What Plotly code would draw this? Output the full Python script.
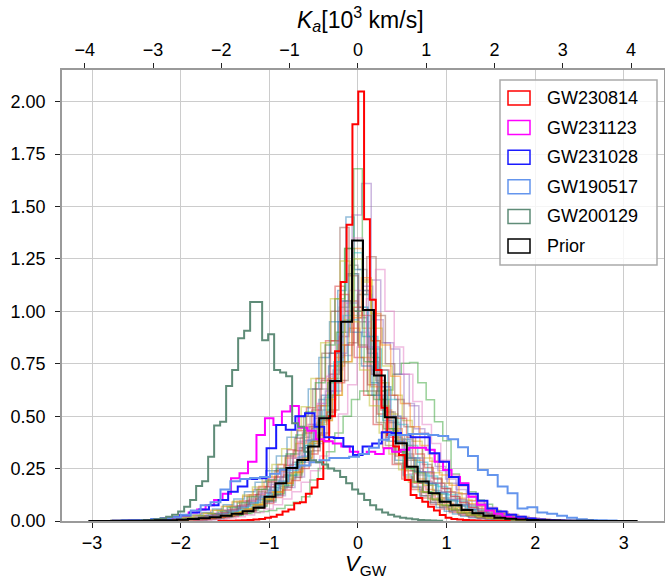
import numpy as np
import plotly.graph_objects as go

# ---------------- data (histogram bin heights) ----------------
# each histogram: (lo, hi) range of bin edges and the bin heights (equal-width bins)
prior_range = (-3.03, 3.145)
prior_counts = [0.0005, 0.0005, 0.001, 0.001, 0.0015, 0.002, 0.003, 0.004, 0.006, 0.009,
                0.013, 0.018, 0.025, 0.035, 0.046, 0.063, 0.116, 0.18, 0.253, 0.291,
                0.355, 0.49, 0.668, 0.951, 1.338, 1.007, 0.694, 0.495, 0.371, 0.259,
                0.188, 0.132, 0.092, 0.075, 0.052, 0.037, 0.025, 0.016, 0.011, 0.007,
                0.005, 0.003, 0.002, 0.0015, 0.001, 0.001, 0.0005, 0.0005, 0.0005, 0.0005]

gw230814_range = (-1.5729, 1.7121)
gw230814_counts = [0.0005, 0.001, 0.001, 0.002, 0.003, 0.005, 0.007, 0.01, 0.015, 0.02,
                   0.03, 0.045, 0.055, 0.085, 0.09, 0.13, 0.16, 0.20, 0.38, 0.50,
                   0.81, 1.14, 1.413, 1.893, 2.049, 1.44, 1.055, 0.72, 0.54, 0.41,
                   0.355, 0.315, 0.196, 0.124, 0.11, 0.092, 0.068, 0.05, 0.029, 0.015,
                   0.01, 0.007, 0.005, 0.003, 0.002, 0.001, 0.0005, 0.0005, 0.0005, 0.0005]

gw231123_range = (-2.580, 2.205)
gw231123_counts = [0.002, 0.003, 0.005, 0.008, 0.012, 0.018, 0.027, 0.04, 0.055, 0.075,
                   0.10, 0.13, 0.204, 0.228, 0.283, 0.41, 0.49, 0.458, 0.522, 0.549,
                   0.445, 0.43, 0.39, 0.38, 0.37, 0.355, 0.33, 0.32, 0.33, 0.32,
                   0.347, 0.33, 0.34, 0.35, 0.35, 0.34, 0.283, 0.243, 0.21, 0.18,
                   0.116, 0.077, 0.05, 0.035, 0.022, 0.014, 0.009, 0.006, 0.003, 0.002]

gw231028_range = (-2.764, 2.653)
gw231028_counts = [0.001, 0.002, 0.003, 0.005, 0.008, 0.012, 0.018, 0.028, 0.04, 0.055,
                   0.075, 0.10, 0.14, 0.164, 0.20, 0.204, 0.347, 0.458, 0.435, 0.50,
                   0.514, 0.45, 0.40, 0.396, 0.355, 0.315, 0.355, 0.37, 0.423, 0.42,
                   0.41, 0.40, 0.40, 0.323, 0.283, 0.21, 0.172, 0.13, 0.097, 0.06,
                   0.045, 0.03, 0.02, 0.012, 0.007, 0.004, 0.002, 0.001, 0.001, 0.0005]

gw190517_range = (-2.668, 2.918)
gw190517_counts = [0.002, 0.003, 0.005, 0.008, 0.012, 0.018, 0.03, 0.05, 0.075, 0.09,
                   0.15, 0.19, 0.20, 0.205, 0.21, 0.225, 0.245, 0.255, 0.265, 0.28,
                   0.29, 0.30, 0.30, 0.307, 0.32, 0.35, 0.387, 0.41, 0.41, 0.415,
                   0.415, 0.41, 0.406, 0.39, 0.352, 0.31, 0.243, 0.22, 0.164, 0.132,
                   0.06, 0.065, 0.04, 0.035, 0.025, 0.015, 0.008, 0.005, 0.003, 0.002]

gw200129_range = (-2.4345, 0.9505)
gw200129_counts = [0.002, 0.004, 0.008, 0.012, 0.02, 0.03, 0.045, 0.068, 0.10, 0.167,
                   0.19, 0.307, 0.455, 0.474, 0.644, 0.72, 0.872, 0.908, 1.045, 1.045,
                   0.862, 0.891, 0.72, 0.708, 0.69, 0.466, 0.45, 0.33, 0.29, 0.28,
                   0.27, 0.25, 0.24, 0.21, 0.18, 0.15, 0.13, 0.10, 0.075, 0.055,
                   0.04, 0.03, 0.022, 0.015, 0.012, 0.008, 0.005, 0.003, 0.002, 0.001]

# faint histograms of the other events
bg_ranges = [(-2.2, 2.2), (-2.0, 2.1), (-2.0406, 2.644), (-2.3, 2.0), (-2.0, 2.3),
             (-2.1, 2.1), (-2.4, 2.2), (-2.0, 2.0), (-2.2, 2.3), (-2.1, 2.2),
             (-1.8, 1.9), (-2.5, 2.3), (-1.9, 2.0), (-2.2, 2.0), (-2.3, 2.4),
             (-2.0, 2.2), (-2.1, 2.0), (-2.3, 2.1), (-1.95, 2.05), (-2.25, 2.25),
             (-2.6, 2.2), (-2.05, 2.35), (-2.35, 2.05), (-1.85, 2.15), (-2.45, 2.45),
             (-2.15, 1.95), (-1.9, 2.3), (-2.4, 2.0)]
bg_counts = [
    [0.003, 0.005, 0.008, 0.012, 0.018, 0.026, 0.036, 0.05, 0.068, 0.09, 0.12, 0.16, 0.21, 0.27, 0.35, 0.45, 0.58, 0.74, 0.95, 1.18,
     1.02, 0.80, 0.62, 0.49, 0.38, 0.30, 0.23, 0.18, 0.135, 0.10, 0.075, 0.055, 0.04, 0.028, 0.019, 0.013, 0.009, 0.006, 0.004, 0.002],
    [0.004, 0.006, 0.01, 0.015, 0.022, 0.03, 0.042, 0.058, 0.08, 0.105, 0.14, 0.18, 0.23, 0.29, 0.37, 0.47, 0.60, 0.78, 1.05, 1.30,
     0.92, 0.70, 0.55, 0.43, 0.33, 0.26, 0.2, 0.15, 0.11, 0.085, 0.062, 0.045, 0.032, 0.022, 0.015, 0.01, 0.007, 0.005, 0.003, 0.002],
    [0.003, 0.005, 0.007, 0.01, 0.013, 0.017, 0.022, 0.028, 0.035, 0.04, 0.045, 0.05, 0.06, 0.075, 0.09, 0.116, 0.196, 0.25, 0.33, 0.42,
     0.50, 0.58, 0.62, 0.60, 0.62, 0.625, 0.70, 0.753, 0.756, 0.66, 0.578, 0.474, 0.383, 0.224, 0.18, 0.14, 0.10, 0.08, 0.05, 0.035,
     0.02, 0.012, 0.008, 0.005, 0.003, 0.002, 0.001, 0.001, 0.0005, 0.0005],
    [0.002, 0.004, 0.007, 0.011, 0.017, 0.025, 0.035, 0.05, 0.07, 0.095, 0.125, 0.165, 0.21, 0.27, 0.34, 0.43, 0.54, 0.68, 0.86, 1.12,
     1.0, 0.78, 0.6, 0.46, 0.35, 0.27, 0.2, 0.15, 0.11, 0.08, 0.057, 0.04, 0.028, 0.019, 0.013, 0.009, 0.006, 0.004, 0.002, 0.001],
    [0.003, 0.005, 0.008, 0.012, 0.018, 0.026, 0.036, 0.05, 0.068, 0.09, 0.12, 0.16, 0.21, 0.28, 0.37, 0.5, 0.72, 1.05, 1.46, 1.61,
     1.15, 0.85, 0.82, 0.7, 0.55, 0.42, 0.32, 0.24, 0.18, 0.13, 0.095, 0.07, 0.05, 0.035, 0.024, 0.016, 0.011, 0.007, 0.004, 0.002],
    [0.004, 0.007, 0.011, 0.016, 0.023, 0.032, 0.044, 0.06, 0.08, 0.105, 0.135, 0.175, 0.22, 0.28, 0.35, 0.44, 0.55, 0.7, 0.88, 1.0,
     0.97, 0.82, 0.66, 0.52, 0.41, 0.32, 0.25, 0.19, 0.145, 0.11, 0.08, 0.058, 0.042, 0.03, 0.021, 0.014, 0.009, 0.006, 0.004, 0.002],
    [0.003, 0.005, 0.008, 0.012, 0.018, 0.026, 0.037, 0.052, 0.07, 0.094, 0.125, 0.16, 0.2, 0.25, 0.31, 0.38, 0.46, 0.56, 0.7, 0.88,
     1.1, 0.9, 0.72, 0.58, 0.47, 0.38, 0.3, 0.235, 0.18, 0.14, 0.105, 0.078, 0.057, 0.041, 0.029, 0.02, 0.013, 0.008, 0.005, 0.003],
    [0.002, 0.004, 0.007, 0.011, 0.017, 0.025, 0.036, 0.05, 0.068, 0.09, 0.12, 0.155, 0.2, 0.26, 0.33, 0.42, 0.53, 0.68, 0.9, 1.22,
     1.2, 0.88, 0.67, 0.52, 0.4, 0.31, 0.24, 0.18, 0.135, 0.1, 0.073, 0.053, 0.038, 0.027, 0.018, 0.012, 0.008, 0.005, 0.003, 0.002],
    [0.002, 0.004, 0.006, 0.01, 0.015, 0.022, 0.031, 0.044, 0.06, 0.08, 0.105, 0.14, 0.18, 0.23, 0.3, 0.38, 0.48, 0.6, 0.76, 0.98,
     1.15, 0.92, 0.74, 0.6, 0.48, 0.38, 0.3, 0.23, 0.18, 0.135, 0.1, 0.075, 0.055, 0.04, 0.028, 0.019, 0.013, 0.008, 0.005, 0.003],
    [0.003, 0.005, 0.009, 0.014, 0.02, 0.029, 0.04, 0.055, 0.075, 0.1, 0.13, 0.17, 0.22, 0.28, 0.36, 0.46, 0.59, 0.76, 0.98, 1.28,
     1.08, 0.82, 0.64, 0.5, 0.39, 0.3, 0.23, 0.175, 0.13, 0.097, 0.071, 0.052, 0.037, 0.026, 0.018, 0.012, 0.008, 0.005, 0.003, 0.002],
    [0.004, 0.007, 0.011, 0.017, 0.025, 0.036, 0.05, 0.07, 0.095, 0.125, 0.165, 0.215, 0.28, 0.36, 0.46, 0.6, 0.8, 1.1, 1.45, 1.2,
     0.88, 0.66, 0.5, 0.38, 0.29, 0.22, 0.165, 0.12, 0.088, 0.064, 0.046, 0.033, 0.023, 0.016, 0.011, 0.007, 0.005, 0.003, 0.002, 0.001],
    [0.003, 0.005, 0.008, 0.012, 0.018, 0.026, 0.037, 0.051, 0.069, 0.091, 0.118, 0.15, 0.19, 0.24, 0.3, 0.37, 0.45, 0.55, 0.68, 0.84,
     0.92, 0.78, 0.64, 0.53, 0.44, 0.36, 0.29, 0.23, 0.18, 0.14, 0.108, 0.082, 0.061, 0.045, 0.033, 0.023, 0.016, 0.011, 0.007, 0.004],
    [0.003, 0.005, 0.008, 0.012, 0.018, 0.026, 0.037, 0.052, 0.072, 0.097, 0.13, 0.17, 0.22, 0.29, 0.38, 0.5, 0.66, 0.9, 1.3, 1.68,
     1.1, 0.78, 0.58, 0.44, 0.33, 0.25, 0.19, 0.14, 0.105, 0.078, 0.057, 0.041, 0.029, 0.02, 0.014, 0.009, 0.006, 0.004, 0.002, 0.001],
    [0.003, 0.005, 0.008, 0.013, 0.019, 0.027, 0.038, 0.053, 0.072, 0.096, 0.126, 0.163, 0.21, 0.265, 0.335, 0.42, 0.53, 0.67, 0.86, 1.08,
     1.05, 0.83, 0.65, 0.51, 0.4, 0.31, 0.24, 0.18, 0.135, 0.1, 0.073, 0.053, 0.038, 0.027, 0.019, 0.013, 0.009, 0.006, 0.004, 0.002],
    [0.002, 0.004, 0.007, 0.011, 0.016, 0.023, 0.033, 0.046, 0.063, 0.085, 0.112, 0.146, 0.19, 0.245, 0.31, 0.39, 0.49, 0.62, 0.79, 1.0,
     1.12, 0.96, 0.85, 0.7, 0.56, 0.44, 0.34, 0.26, 0.2, 0.15, 0.112, 0.083, 0.061, 0.044, 0.031, 0.021, 0.014, 0.009, 0.005, 0.003],
    [0.003, 0.005, 0.008, 0.012, 0.018, 0.026, 0.037, 0.052, 0.071, 0.095, 0.125, 0.162, 0.208, 0.265, 0.335, 0.42, 0.53, 0.67, 0.85, 1.08,
     1.26, 0.98, 0.75, 0.58, 0.45, 0.35, 0.27, 0.205, 0.155, 0.116, 0.086, 0.063, 0.045, 0.032, 0.022, 0.015, 0.01, 0.006, 0.004, 0.002],
    [0.004, 0.007, 0.011, 0.016, 0.024, 0.034, 0.047, 0.064, 0.086, 0.113, 0.147, 0.19, 0.24, 0.3, 0.375, 0.46, 0.56, 0.69, 0.85, 1.04,
     1.35, 0.95, 0.7, 0.53, 0.4, 0.3, 0.225, 0.165, 0.12, 0.088, 0.064, 0.046, 0.033, 0.023, 0.016, 0.011, 0.007, 0.005, 0.003, 0.002],
    [0.003, 0.005, 0.008, 0.012, 0.018, 0.026, 0.036, 0.05, 0.068, 0.09, 0.118, 0.152, 0.195, 0.25, 0.32, 0.4, 0.5, 0.63, 0.8, 1.02,
     1.18, 0.95, 0.76, 0.6, 0.47, 0.37, 0.29, 0.22, 0.17, 0.128, 0.095, 0.07, 0.051, 0.037, 0.026, 0.018, 0.012, 0.008, 0.005, 0.003],
    [0.004, 0.006, 0.01, 0.015, 0.022, 0.031, 0.043, 0.059, 0.08, 0.106, 0.14, 0.18, 0.23, 0.295, 0.37, 0.46, 0.58, 0.74, 0.96, 1.25,
     1.14, 0.86, 0.66, 0.51, 0.39, 0.3, 0.23, 0.17, 0.125, 0.092, 0.067, 0.048, 0.034, 0.024, 0.016, 0.011, 0.007, 0.005, 0.003, 0.002],
    [0.003, 0.005, 0.008, 0.012, 0.017, 0.024, 0.034, 0.047, 0.064, 0.086, 0.113, 0.147, 0.19, 0.24, 0.305, 0.385, 0.48, 0.6, 0.76, 0.96,
     1.02, 0.88, 0.72, 0.58, 0.46, 0.36, 0.28, 0.215, 0.165, 0.125, 0.094, 0.07, 0.051, 0.037, 0.026, 0.018, 0.012, 0.008, 0.005, 0.003],
    [0.002, 0.004, 0.006, 0.009, 0.014, 0.02, 0.029, 0.041, 0.057, 0.078, 0.105, 0.14, 0.185, 0.24, 0.31, 0.4, 0.5, 0.63, 0.78, 0.95,
     1.05, 0.9, 0.74, 0.6, 0.48, 0.38, 0.3, 0.235, 0.18, 0.137, 0.103, 0.077, 0.056, 0.04, 0.028, 0.019, 0.012, 0.008, 0.005, 0.003],
    [0.003, 0.005, 0.008, 0.012, 0.018, 0.027, 0.039, 0.055, 0.076, 0.103, 0.137, 0.18, 0.235, 0.3, 0.38, 0.48, 0.6, 0.76, 0.97, 1.16,
     0.99, 0.84, 0.69, 0.56, 0.45, 0.36, 0.285, 0.22, 0.17, 0.13, 0.098, 0.073, 0.053, 0.038, 0.027, 0.018, 0.012, 0.008, 0.005, 0.003],
    [0.002, 0.004, 0.007, 0.011, 0.016, 0.024, 0.034, 0.047, 0.064, 0.086, 0.114, 0.15, 0.195, 0.25, 0.32, 0.41, 0.52, 0.66, 0.84, 1.06,
     1.3, 1.0, 0.76, 0.58, 0.44, 0.33, 0.25, 0.185, 0.137, 0.1, 0.073, 0.053, 0.038, 0.027, 0.019, 0.013, 0.008, 0.005, 0.003, 0.002],
    [0.004, 0.006, 0.01, 0.015, 0.022, 0.032, 0.045, 0.062, 0.084, 0.112, 0.148, 0.193, 0.25, 0.32, 0.41, 0.52, 0.66, 0.84, 1.02, 0.98,
     0.86, 0.72, 0.6, 0.49, 0.4, 0.32, 0.255, 0.2, 0.155, 0.118, 0.089, 0.066, 0.048, 0.035, 0.025, 0.017, 0.011, 0.007, 0.004, 0.002],
    [0.002, 0.003, 0.005, 0.008, 0.012, 0.018, 0.026, 0.037, 0.052, 0.072, 0.098, 0.132, 0.175, 0.23, 0.3, 0.385, 0.49, 0.62, 0.8, 1.04,
     1.1, 0.83, 0.64, 0.5, 0.39, 0.3, 0.235, 0.18, 0.137, 0.103, 0.077, 0.057, 0.041, 0.029, 0.02, 0.013, 0.008, 0.005, 0.003, 0.002],
    [0.003, 0.005, 0.008, 0.013, 0.02, 0.029, 0.041, 0.057, 0.078, 0.105, 0.14, 0.185, 0.24, 0.31, 0.395, 0.5, 0.63, 0.8, 1.0, 1.4,
     1.17, 0.84, 0.62, 0.47, 0.36, 0.275, 0.21, 0.16, 0.12, 0.09, 0.066, 0.048, 0.034, 0.024, 0.016, 0.011, 0.007, 0.004, 0.003, 0.002],
    [0.002, 0.004, 0.006, 0.009, 0.014, 0.02, 0.029, 0.041, 0.057, 0.078, 0.105, 0.14, 0.185, 0.24, 0.31, 0.4, 0.51, 0.65, 0.83, 1.06,
     1.2, 1.0, 0.83, 0.7, 0.57, 0.46, 0.37, 0.29, 0.22, 0.165, 0.122, 0.09, 0.065, 0.047, 0.033, 0.023, 0.015, 0.01, 0.006, 0.003],
    [0.003, 0.005, 0.008, 0.012, 0.018, 0.026, 0.037, 0.051, 0.07, 0.094, 0.124, 0.162, 0.21, 0.27, 0.345, 0.435, 0.545, 0.68, 0.85, 1.06,
     1.24, 0.95, 0.72, 0.55, 0.42, 0.32, 0.245, 0.185, 0.14, 0.105, 0.078, 0.057, 0.041, 0.029, 0.02, 0.013, 0.009, 0.006, 0.003, 0.002],
]
bg_colors = ['#1f77b4', '#ff7f0e', '#2ca02c', '#d62728', '#9467bd', '#8c564b', '#e377c2', '#7f7f7f', '#bcbd22', '#17becf',
             '#1f77b4', '#ff7f0e', '#2ca02c', '#d62728', '#9467bd', '#8c564b', '#e377c2', '#7f7f7f', '#bcbd22', '#17becf',
             '#1f77b4', '#ff7f0e', '#2ca02c', '#d62728', '#9467bd', '#8c564b', '#e377c2', '#bcbd22']

event_names = ['GW230814', 'GW231123', 'GW231028', 'GW190517', 'GW200129', 'Prior']
event_colors = ['#ff0000', '#ff00ff', '#1a1aff', '#6495ed', '#5f8c78', '#000000']
event_ranges = [gw230814_range, gw231123_range, gw231028_range, gw190517_range, gw200129_range, prior_range]
event_counts = [gw230814_counts, gw231123_counts, gw231028_counts, gw190517_counts, gw200129_counts, prior_counts]

v_ticks = [-3, -2, -1, 0, 1, 2, 3]
ka_ticks = [-4, -3, -2, -1, 0, 1, 2, 3, 4]
y_ticks = [0.0, 0.25, 0.5, 0.75, 1.0, 1.25, 1.5, 1.75, 2.0]
ka_per_v = 1.298   # 10^3 km/s per unit of V_GW

# ---------------- figure ----------------
def step_xy(rng, counts):
    edges = np.linspace(rng[0], rng[1], len(counts) + 1)
    x = np.concatenate([[edges[0]], edges[:-1], [edges[-1]]])
    y = np.concatenate([[0.0], counts, [0.0]])
    return x, y

fig = go.Figure()
for rng, cnt, col in zip(bg_ranges, bg_counts, bg_colors):
    x, y = step_xy(rng, cnt)
    fig.add_trace(go.Scatter(x=x, y=y, mode='lines', line=dict(color=col, width=1.5, shape='hv'),
                             opacity=0.48, showlegend=False, hoverinfo='skip'))

for name, rng, cnt, col in zip(event_names, event_ranges, event_counts, event_colors):
    x, y = step_xy(rng, cnt)
    fig.add_trace(go.Scatter(x=x, y=y, mode='lines', name=name,
                             line=dict(color=col, width=2, shape='hv'), showlegend=False))

all_lo = min(r[0] for r in bg_ranges + event_ranges)
all_hi = max(r[1] for r in bg_ranges + event_ranges)
pad = 0.05 * (all_hi - all_lo)
xr = [all_lo - pad, all_hi + pad]
yr = [0, 1.05 * max(max(c) for c in event_counts + bg_counts)]

# invisible trace to carry the top axis
fig.add_trace(go.Scatter(x=[xr[0] * ka_per_v, xr[1] * ka_per_v], y=[0, 0], xaxis='x2', mode='lines',
                         line=dict(width=0), opacity=0, showlegend=False, hoverinfo='skip'))

FONT = 'Liberation Sans, Arial, Helvetica, sans-serif'
axis_common = dict(showline=True, linecolor='#9a9a9a', linewidth=1.5, ticks='outside', ticklen=5,
                   tickwidth=1.2, tickcolor='#222222', tickfont=dict(size=18, color='black', family=FONT),
                   zeroline=False, automargin=False)

fig.update_layout(
    width=665, height=582,
    margin=dict(l=62, r=1, t=70, b=61, autoexpand=False),
    paper_bgcolor='white', plot_bgcolor='white',
    font=dict(family=FONT, color='black'),
    showlegend=False,
    xaxis=dict(range=xr, tickvals=v_ticks, showgrid=True, gridcolor='#cccccc', gridwidth=1, **axis_common),
    xaxis2=dict(range=[xr[0] * ka_per_v, xr[1] * ka_per_v], overlaying='x', side='top', anchor='y',
                tickvals=ka_ticks, showgrid=False, **axis_common),
    yaxis=dict(range=yr, tickvals=y_ticks, tickformat='.2f', showgrid=True, gridcolor='#cccccc', gridwidth=1,
               mirror=True, ticklabelstandoff=6, **axis_common),
)

# pixel helpers for layout items (legend box, axis titles)
W, H = 665, 582
L, R, T, B = 62, 1, 70, 61
pw, ph = W - L - R, H - T - B
def px(xp):
    return (xp - L) / pw
def py(yp):
    return (H - B - yp) / ph

# axis titles
fig.add_annotation(xref='paper', yref='paper', x=px(366), y=py(565), text='<i>V</i><sub>GW</sub>',
                   showarrow=False, xanchor='center', yanchor='middle', font=dict(size=22, color='black', family=FONT))
fig.add_annotation(xref='paper', yref='paper', x=px(360), y=py(19), text='<i>K</i><sub><i>a</i></sub>[10<sup>3</sup> km/s]',
                   showarrow=False, xanchor='center', yanchor='middle', font=dict(size=23, color='black', family=FONT))

# legend box
fig.add_shape(type='rect', xref='paper', yref='paper', x0=px(500), x1=px(657), y0=py(265), y1=py(80),
              fillcolor='rgba(255,255,255,0.8)', line=dict(color='#aaaaaa', width=1.5), layer='above')
for i, (name, col) in enumerate(zip(event_names, event_colors)):
    yc = 98 + 29.6 * i
    fig.add_shape(type='rect', xref='paper', yref='paper', x0=px(508), x1=px(530), y0=py(yc + 7), y1=py(yc - 7),
                  line=dict(color=col, width=1.5), fillcolor='rgba(0,0,0,0)', layer='above')
    fig.add_annotation(xref='paper', yref='paper', x=px(545), y=py(yc), text=name, showarrow=False,
                       xanchor='left', yanchor='middle', font=dict(size=18, color='black', family=FONT))

fig.write_html('out.html', config={'displayModeBar': False},
               post_script="document.body.style.margin='0px';document.body.style.padding='0px';")
